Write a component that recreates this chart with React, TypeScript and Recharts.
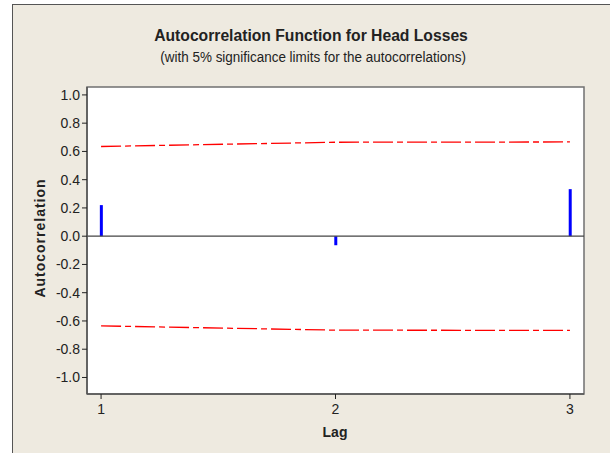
import {
  ComposedChart,
  Bar,
  Line,
  XAxis,
  YAxis,
  CartesianGrid,
  ReferenceLine,
  ReferenceArea,
} from 'recharts';

// ACF values
const lags = [1, 2, 3];
const acf = [0.22, -0.064, 0.333];
const upperLimit = [0.635, 0.665, 0.667];
const lowerLimit = [-0.635, -0.665, -0.667];

const xTicks = [1, 2, 3];
const yTicks = [-1, -0.8, -0.6, -0.4, -0.2, 0, 0.2, 0.4, 0.6, 0.8, 1];
const xDomain: [number, number] = [0.94, 3.06];
const yDomain: [number, number] = [-1.117, 1.056];

const COLORS = {
  frame: '#eeeae0',
  acf: '#0000ff',
  limit: '#ff0000',
  axis: '#555555',
  text: '#222222',
};

const FONT = '"Liberation Sans", Arial, sans-serif';

const data = lags.map((lag, i) => ({
  lag,
  acf: acf[i],
  upper: upperLimit[i],
  lower: lowerLimit[i],
}));

export default function App() {
  return (
    <div
      style={{
        position: 'absolute',
        left: 0,
        top: 0,
        width: 610,
        height: 453,
        background: '#fff',
        overflow: 'hidden',
        fontFamily: FONT,
        color: COLORS.text,
      }}
    >
      <div
        style={{
          position: 'absolute',
          left: 12,
          top: 4,
          width: 640,
          height: 480,
          border: `1.5px solid ${COLORS.axis}`,
          background: COLORS.frame,
        }}
      />
      {/* titles */}
      <div
        style={{
          position: 'absolute',
          left: 0,
          width: 622,
          top: 27,
          textAlign: 'center',
          fontSize: 16,
          fontWeight: 'bold',
          whiteSpace: 'nowrap',
        }}
      >
        <span style={{ display: 'inline-block', transform: 'scaleX(0.98)' }}>
          Autocorrelation Function for Head Losses
        </span>
      </div>
      <div
        style={{
          position: 'absolute',
          left: 0,
          width: 626,
          top: 49,
          textAlign: 'center',
          fontSize: 14,
          whiteSpace: 'nowrap',
        }}
      >
        <span style={{ display: 'inline-block', transform: 'scaleX(0.96)' }}>
          (with 5% significance limits for the autocorrelations)
        </span>
      </div>
      <ComposedChart
        width={610}
        height={453}
        data={data}
        margin={{ top: 87, right: 26, bottom: 0, left: 0 }}
        style={{ position: 'absolute', left: 0, top: 0 }}
      >
        <CartesianGrid horizontal={false} vertical={false} fill="#ffffff" fillOpacity={1} />
        <XAxis
          dataKey="lag"
          type="number"
          domain={xDomain}
          ticks={xTicks}
          height={59}
          tickSize={5}
          tick={{ fontSize: 14, fill: COLORS.text, fontFamily: FONT, dy: 3 }}
          tickLine={{ stroke: COLORS.text }}
          axisLine={{ stroke: COLORS.axis, strokeWidth: 1.5 }}
        />
        <YAxis
          type="number"
          domain={yDomain}
          ticks={yTicks}
          width={87}
          tickSize={5}
          tickFormatter={(v: number) => v.toFixed(1)}
          tick={{ fontSize: 14, fill: COLORS.text, fontFamily: FONT }}
          tickLine={{ stroke: COLORS.text }}
          axisLine={{ stroke: COLORS.axis, strokeWidth: 1.5 }}
        />
        <ReferenceLine y={0} stroke="#444" strokeWidth={1.2} />
        <Bar dataKey="acf" fill={COLORS.acf} barSize={3} isAnimationActive={false} />
        <Line
          type="linear"
          dataKey="upper"
          stroke={COLORS.limit}
          strokeWidth={1.3}
          strokeDasharray="20 4 6 4"
          dot={false}
          activeDot={false}
          isAnimationActive={false}
        />
        <Line
          type="linear"
          dataKey="lower"
          stroke={COLORS.limit}
          strokeWidth={1.3}
          strokeDasharray="20 4 6 4"
          dot={false}
          activeDot={false}
          isAnimationActive={false}
        />
        <ReferenceArea
          x1={xDomain[0]}
          x2={xDomain[1]}
          y1={yDomain[0]}
          y2={yDomain[1]}
          fill="none"
          stroke="#707070"
          strokeWidth={1.5}
          ifOverflow="visible"
        />
      </ComposedChart>
      {/* axis titles */}
      <div
        style={{
          position: 'absolute',
          left: 40,
          top: 238,
          transform: 'translate(-50%, -50%) rotate(-90deg)',
          fontSize: 14,
          fontWeight: 'bold',
          letterSpacing: 1,
          whiteSpace: 'nowrap',
        }}
      >
        Autocorrelation
      </div>
      <div
        style={{
          position: 'absolute',
          left: 335,
          top: 432,
          transform: 'translate(-50%, -50%)',
          fontSize: 14,
          fontWeight: 'bold',
          whiteSpace: 'nowrap',
        }}
      >
        Lag
      </div>
    </div>
  );
}
